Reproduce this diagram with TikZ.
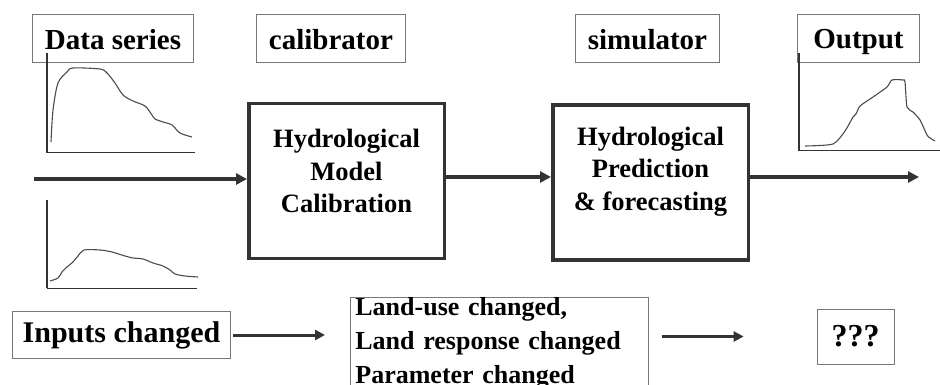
\documentclass[tikz,border=0pt]{standalone}
\usepackage{fontspec}
\setmainfont{Liberation Serif}
\usepackage{tikz}
\usetikzlibrary{arrows.meta,positioning,calc}
\definecolor{darkline}{RGB}{51,51,51}
\definecolor{thinbox}{RGB}{120,120,120}
\definecolor{curvegray}{RGB}{75,75,75}

\begin{document}
\begin{tikzpicture}[x=1pt,y=-1pt,
  mylabel/.style={draw=thinbox,line width=0.8pt,minimum height=48pt,inner sep=0pt,text height=24pt,text depth=2pt,font=\fontsize{29}{32}\selectfont\bfseries},
  mybox/.style={draw=darkline,line width=3.5pt,minimum width=195.5pt,minimum height=154.5pt,inner sep=0pt},
  mytext/.style={align=center,font=\fontsize{26.5}{32.5}\selectfont\bfseries},
  myarrow/.style={draw=darkline,line width=3.5pt,-{Triangle[length=11pt,width=11pt]}},
  myarrowb/.style={draw=darkline,line width=3pt,-{Triangle[length=10pt,width=10pt]}},
  myaxis/.style={draw=darkline,line width=2pt},
  mycurve/.style={draw=curvegray,line width=1.1pt}
]
\clip (0,0) rectangle (940,385);

% top labels
\node[mylabel,minimum width=161pt] at (113,38.5) (DS) {Data series};
\node[mylabel,minimum width=149pt] at (331,38.5) (CL) {calibrator};
\node[mylabel,minimum width=144pt] at (647.5,38.5) (SM) {simulator};
\node[mylabel,minimum width=122pt] at (858.5,38) (OP) {Output};

% model boxes
\node[mybox] at (346.5,181) (CAL) {};
\node[mytext] at ([yshift=10pt]CAL.center) (CALt) {Hydrological\\Model\\Calibration};
\node[mybox] at (650.5,182.5) (PRED) {};
\node[mytext] at ([yshift=11pt]PRED.center) (PREDt) {Hydrological\\Prediction\\\& forecasting};

% main flow
\coordinate (start) at (34,179);
\coordinate (outend) at (919,177);
\draw[myarrow] (start) -- (start -| CAL.west);
\draw[myarrow] ([yshift=4pt]CAL.east) -- ([yshift=4pt]CAL.east -| PRED.west);
\draw[myarrow] (outend -| PRED.east) -- (outend);

% data series
\draw[myaxis] (47,53) -- (47,153);
\draw[darkline,line width=1pt] (47,153) -- (195,153);
\draw[mycurve] plot[smooth,tension=0.5] coordinates {(51,142) (53,110) (58,83) (67,72) (73,68) (100,69) (107,73) (115,83) (123,95) (133,101) (145,106) (152,115) (155,119) (163,122) (172,125) (180,133) (192,137)};

\draw[myaxis] (47,200) -- (47,288);
\draw[darkline,line width=1pt] (47,288) -- (197,288);
\draw[mycurve] plot[smooth,tension=0.5] coordinates {(50,281) (58,278) (62,272) (67,267) (73,262) (78,256) (84,250) (100,250) (112,252) (125,256) (133,258) (143,259) (153,263) (163,266) (170,270) (175,274) (185,276) (198,277)};

% output
\draw[myaxis] (799,53) -- (799,151);
\draw[darkline,line width=1pt] (799,151) -- (940,151);
\draw[mycurve] plot[smooth,tension=0.4] coordinates {(805,146) (833,144) (845,131) (853,117) (856,114) (860,106) (873,97) (887,87) (892,80) (903,80) (905,82) (907,107) (913,112) (920,120) (927,135) (930,138) (935,141)};

% bottom row
\node[draw=thinbox,line width=0.8pt,minimum width=218pt,minimum height=47pt,inner sep=0pt,font=\fontsize{30}{32}\selectfont\bfseries] at (121.5,335) (IN) {Inputs changed};
\node[draw=thinbox,line width=0.8pt,anchor=north west,text width=288pt,inner xsep=5pt,inner ysep=0pt,align=left,font=\fontsize{26}{34}\selectfont\bfseries] at (350,297) (LU) {Land-use changed,\\Land response changed\\Parameter changed};
\node[draw=thinbox,line width=0.8pt,minimum width=77pt,minimum height=55pt,inner sep=0pt,font=\fontsize{32}{34}\selectfont\bfseries] at (855.5,336.5) (Q) {???};

\draw[myarrowb,shorten <=2pt,shorten >=25pt] (IN.east) -- (IN.east -| LU.west);
\draw[myarrowb,shorten <=13pt,shorten >=73pt] (Q.west -| LU.east) -- (Q.west);

\end{tikzpicture}
\end{document}
